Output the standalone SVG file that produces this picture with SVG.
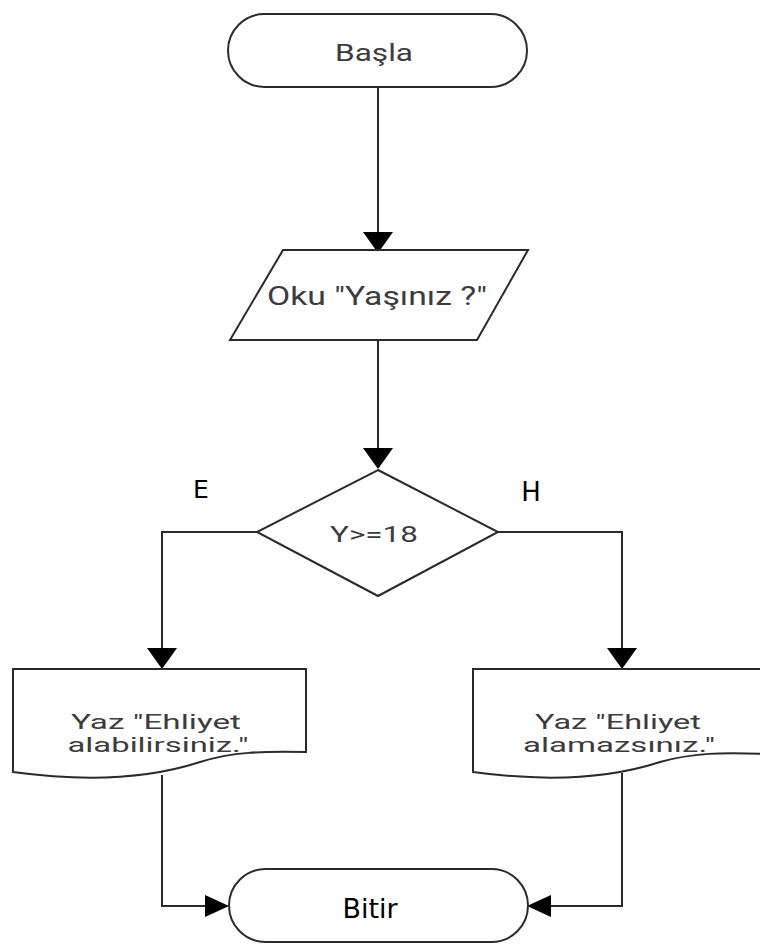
<svg xmlns="http://www.w3.org/2000/svg" width="760" height="944" viewBox="0 0 760 944">
<style>
.shape{fill:#fff;stroke:#2a2a2a;stroke-width:2}
.line{fill:none;stroke:#2a2a2a;stroke-width:2}
.head{fill:#000}
.t{font-family:Roboto,"Liberation Sans",sans-serif;fill:#3c3c3c;text-anchor:middle}
.d{font-family:"DejaVu Sans",Verdana,sans-serif;fill:#000;text-anchor:middle}
</style>
<rect width="760" height="944" fill="#fff"/>
<g id="connectors">
<path class="line" d="M378,87 V234"/>
<polygon class="head" points="363,232 393,232 378,253"/>
<path class="line" d="M378,340 V450"/>
<polygon class="head" points="363,448 393,448 378,469"/>
<path class="line" d="M257,532 H162 V650"/>
<polygon class="head" points="147,648 177,648 162,669"/>
<path class="line" d="M498,532 H622 V650"/>
<polygon class="head" points="607,648 637,648 622,669"/>
<path class="line" d="M162,775 V906 H207"/>
<polygon class="head" points="205,895 205,917 229,906"/>
<path class="line" d="M622,773 V906 H549"/>
<polygon class="head" points="551,895 551,917 527,906"/>
</g>
<g id="start">
<rect class="shape" x="228" y="14" width="299" height="73" rx="36.5"/>
<text class="t" x="374" y="61" font-size="23" textLength="78" lengthAdjust="spacingAndGlyphs">Başla</text>
</g>
<g id="input">
<polygon class="shape" points="283,250 528,250 477,340 230,340"/>
<text class="t" x="377" y="305" font-size="25" textLength="220" lengthAdjust="spacingAndGlyphs">Oku "Yaşınız ?"</text>
</g>
<g id="decision">
<polygon class="shape" points="378,470 498,532 378,596 257,532"/>
<text class="t" x="374" y="542" font-size="22" textLength="88" lengthAdjust="spacingAndGlyphs">Y&gt;=18</text>
</g>
<g id="label-e">
<text class="d" x="201" y="498" font-size="25">E</text>
</g>
<g id="label-h">
<text class="d" x="531" y="501" font-size="26">H</text>
</g>
<g id="out-yes">
<path class="shape" d="M13,669 H306 V752 C262,751 232,752 200,762 C160,775 100,784 13,772 Z"/>
<text class="t" x="156" y="729" font-size="20" textLength="170" lengthAdjust="spacingAndGlyphs">Yaz "Ehliyet</text>
<text class="t" x="158" y="752" font-size="20" textLength="181" lengthAdjust="spacingAndGlyphs">alabilirsiniz."</text>
</g>
<g id="out-no">
<path class="shape" d="M473,669 H766 V754 C722,752 692,753 660,762 C620,775 560,784 473,772 Z"/>
<text class="t" x="618" y="729" font-size="20" textLength="166" lengthAdjust="spacingAndGlyphs">Yaz "Ehliyet</text>
<text class="t" x="619" y="752" font-size="20" textLength="192" lengthAdjust="spacingAndGlyphs">alamazsınız."</text>
</g>
<g id="end">
<rect class="shape" x="229" y="869" width="299" height="73" rx="36.5"/>
<text class="d" x="370" y="918" font-size="27" textLength="55" lengthAdjust="spacingAndGlyphs">Bitir</text>
</g>
</svg>
